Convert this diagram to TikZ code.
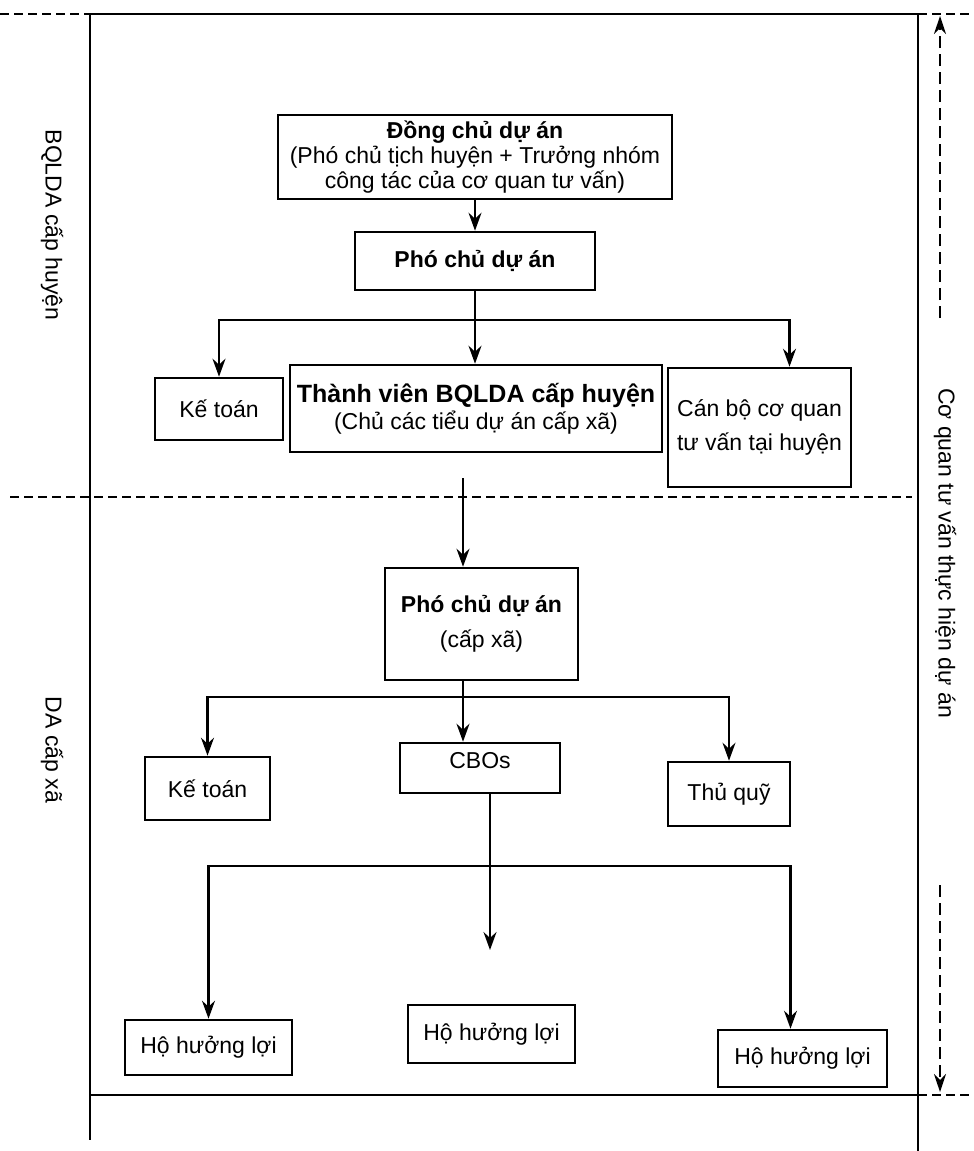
\documentclass[tikz,border=0pt]{standalone}
\usepackage{fontspec}
\setmainfont{Liberation Sans}
\usetikzlibrary{arrows.meta}
\begin{document}
\begin{tikzpicture}[x=1pt,y=-1pt,
  box/.style={draw, line width=2.6pt, align=center, inner sep=0pt,
              font=\fontsize{23}{25}\selectfont},
  conn/.style={line width=2.2pt},
  arr/.style={conn, -{Stealth[length=18pt,width=13pt,inset=6pt]}},
  frame/.style={line width=2.6pt},
  sep/.style={line width=2pt, dash pattern=on 9pt off 5pt},
  side/.style={line width=1.8pt, dash pattern=on 12pt off 6pt,
               -{Stealth[length=18pt,width=12pt,inset=6pt]}},
  sidelabel/.style={font=\fontsize{23}{25}\selectfont, rotate=-90}
]
\useasboundingbox (0,0) rectangle (974,1151);

% outer frame and level separators
\draw[sep]   (0,14) -- (90,14);
\draw[frame] (90,14) -- (918,14);
\draw[sep]   (918,14) -- (974,14);
\draw[frame] (90,1095) -- (918,1095);
\draw[sep]   (918,1095) -- (974,1095);
\draw[frame] (90,14) -- (90,1140);
\draw[frame] (918,14) -- (918,1151);
\draw[sep]   (10,497) -- (912,497);

% side labels
\node[sidelabel] (lvl1) at (52,225) {BQLDA cấp huyện};
\node[sidelabel] (lvl2) at (52,750) {DA cấp xã};
\node[sidelabel] (cq) at (945,553) {Cơ quan tư vấn thực hiện dự án};

% consultant span arrows
\coordinate (rt0) at (940,318);
\coordinate (rt)  at (940,16);
\coordinate (rb0) at (940,885);
\coordinate (rb)  at (940,1092);
\draw[side] (rt0) -- (rt);
\draw[side] (rb0) -- (rb);

% district level
\node[box, minimum width=394pt, minimum height=84pt] (dongchu) at (475,157)
  {\textbf{Đồng chủ dự án}\\(Phó chủ tịch huyện + Trưởng nhóm\\công tác của cơ quan tư vấn)};
\node[box, minimum width=240pt, minimum height=58pt] (phochu) at (475,261)
  {\textbf{Phó chủ dự án}};
\node[box, minimum width=128pt, minimum height=62pt] (ketoan1) at (219,409) {Kế toán};
\node[box, minimum width=372pt, minimum height=87pt] (thanhvien) at (476,408.5)
  {{\fontsize{25}{28}\selectfont\textbf{Thành viên BQLDA cấp huyện}}\\[2pt](Chủ các tiểu dự án cấp xã)};
\node[box, minimum width=183pt, minimum height=119pt,
      font=\fontsize{23}{34}\selectfont] (canbo) at (759.5,427.5)
  {Cán bộ cơ quan\\tư vấn tại huyện};

\draw[arr] (dongchu.south) -- (phochu.north);
\coordinate (j1) at (475,320);
\draw[conn] (phochu.south) -- (j1);
\draw[arr] (j1) -| (ketoan1.north);
\draw[arr] (j1) -- (j1 |- thanhvien.north);
\draw[arr] (j1) -| ([xshift=30pt]canbo.north);

% commune level
\node[box, minimum width=193pt, minimum height=112pt] (pcx) at (481.5,624)
  {\textbf{Phó chủ dự án}\\[10pt](cấp xã)};
\coordinate (s2) at (463,478);
\draw[arr] (s2) -- (s2 |- pcx.north);

\node[box, minimum width=125pt, minimum height=63pt] (ketoan2) at (207.5,788.5) {Kế toán};
\node[box, minimum width=160pt, inner ysep=8pt, text height=17pt, text depth=17pt] (cbos) at (480,768) {CBOs};
\node[box, minimum width=122pt, minimum height=64pt] (thuquy) at (729,794) {Thủ quỹ};

\coordinate (j2) at (463,697);
\draw[conn] (j2 |- pcx.south) -- (j2);
\draw[arr] (j2) -| (ketoan2.north);
\draw[arr] (j2) -- (j2 |- cbos.north);
\draw[arr] (j2) -| (thuquy.north);

% beneficiaries
\node[box, minimum width=167pt, minimum height=55pt] (hoL) at (208.5,1047.5) {Hộ hưởng lợi};
\node[box, minimum width=167pt, minimum height=58pt] (hoM) at (491.5,1034) {Hộ hưởng lợi};
\node[box, minimum width=169pt, minimum height=57pt] (hoR) at (802.5,1058.5) {Hộ hưởng lợi};

\coordinate (j3) at (490,866);
\coordinate (m3) at (490,950);
\draw[conn] (j3 |- cbos.south) -- (j3);
\draw[arr] (j3) -- (m3);
\draw[arr] (j3) -| (hoL.north);
\draw[arr] (j3) -| ([xshift=-12pt]hoR.north);
\end{tikzpicture}
\end{document}
